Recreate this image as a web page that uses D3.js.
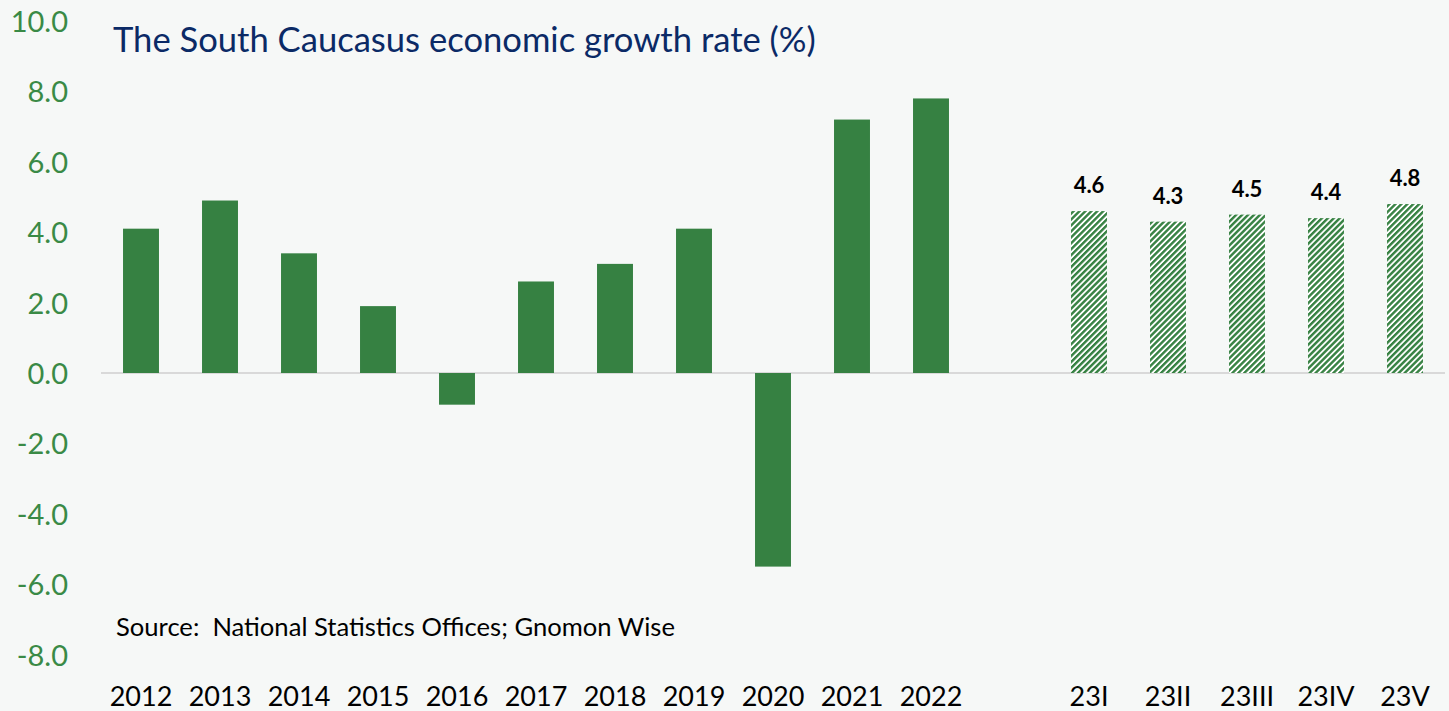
<!DOCTYPE html>
<html>
<head>
<meta charset="utf-8">
<script src="https://cdn.jsdelivr.net/npm/d3@7"></script>
<style>
  body { margin: 0; background: #f6f8f7; }
  svg { display: block; font-family: Lato, "Open Sans", sans-serif; }
</style>
</head>
<body>
<div id="chart"></div>
<script>
// years and their growth rates
const years = ["2012", "2013", "2014", "2015", "2016", "2017", "2018", "2019", "2020", "2021", "2022"];
const yearValues = [4.1, 4.9, 3.4, 1.9, -0.9, 2.6, 3.1, 4.1, -5.5, 7.2, 7.8];

// 2023 estimates (hatched, labelled)
const quarters = ["23I", "23II", "23III", "23IV", "23V"];
const quarterValues = [4.6, 4.3, 4.5, 4.4, 4.8];

const yTicks = [10, 8, 6, 4, 2, 0, -2, -4, -6, -8];

const W = 1449, H = 711;
const green = "#368142";

const svg = d3.select("#chart").append("svg")
    .attr("width", W)
    .attr("height", H);

svg.append("rect").attr("width", W).attr("height", H).attr("fill", "#f6f8f7");

// hatch pattern for the 2023 bars
const pat = svg.append("defs").append("pattern")
    .attr("id", "hatch")
    .attr("patternUnits", "userSpaceOnUse")
    .attr("width", 4.2)
    .attr("height", 10)
    .attr("patternTransform", "rotate(45)");
pat.append("rect").attr("width", 4.2).attr("height", 10).attr("fill", "#ffffff");
pat.append("rect").attr("width", 2.4).attr("height", 10).attr("fill", green);

// one empty slot between the years and the quarters
const slots = years.concat(["gap"], quarters);

const x = d3.scaleBand()
    .domain(slots)
    .range([101.5, 1444.5])
    .paddingInner(0.545)
    .paddingOuter(0.2725);

const y = d3.scaleLinear()
    .domain([-8, 10])
    .range([654.6, 21]);

// zero line
svg.append("line")
    .attr("x1", 101).attr("x2", 1445)
    .attr("y1", y(0)).attr("y2", y(0))
    .attr("stroke", "#d9d9d9")
    .attr("stroke-width", 2);

const yearData = years.map((d, i) => ({ cat: d, v: yearValues[i] }));
const qData = quarters.map((d, i) => ({ cat: d, v: quarterValues[i] }));

svg.selectAll(".bar")
    .data(yearData)
    .enter().append("rect")
    .attr("class", "bar")
    .attr("x", d => x(d.cat))
    .attr("width", x.bandwidth())
    .attr("y", d => y(Math.max(0, d.v)))
    .attr("height", d => Math.abs(y(d.v) - y(0)))
    .attr("fill", green);

svg.selectAll(".qbar")
    .data(qData)
    .enter().append("rect")
    .attr("class", "qbar")
    .attr("x", d => x(d.cat))
    .attr("width", x.bandwidth())
    .attr("y", d => y(d.v))
    .attr("height", d => y(0) - y(d.v))
    .attr("fill", "url(#hatch)");

svg.selectAll(".qlabel")
    .data(qData)
    .enter().append("text")
    .attr("class", "qlabel")
    .attr("x", d => x(d.cat) + x.bandwidth() / 2)
    .attr("y", d => y(d.v) - 18)
    .attr("text-anchor", "middle")
    .attr("font-size", "22px")
    .attr("font-weight", "bold")
    .attr("fill", "#000")
    .text(d => d.v.toFixed(1));

// y axis labels only (plain hyphen for negatives, like the original)
const yAxis = svg.append("g")
    .attr("transform", "translate(68,0)")
    .call(d3.axisLeft(y).tickValues(yTicks).tickSize(0).tickPadding(0)
        .tickFormat(d => d.toFixed(1)));
yAxis.select(".domain").remove();
yAxis.selectAll("text")
    .attr("font-family", "Lato, sans-serif")
    .attr("font-size", "29px")
    .attr("fill", "#3a8a46")
    .attr("dy", "0.36em");

// x axis labels, placed at the bottom
const xAxis = svg.append("g")
    .attr("transform", "translate(0,706)")
    .call(d3.axisBottom(x).tickSize(0).tickPadding(0).tickFormat(d => d === "gap" ? "" : d));
xAxis.select(".domain").remove();
xAxis.selectAll("text")
    .attr("font-family", "Lato, sans-serif")
    .attr("font-size", "27px")
    .attr("fill", "#000")
    .attr("dy", "0");

svg.append("text")
    .attr("x", 113)
    .attr("y", 52)
    .attr("font-size", "34.6px")
    .attr("fill", "#0b2a66")
    .text("The South Caucasus economic growth rate (%)");

svg.append("text")
    .attr("x", 116)
    .attr("y", 636)
    .attr("font-size", "25.6px")
    .attr("fill", "#000")
    .attr("xml:space", "preserve")
    .text("Source:  National Statistics Offices; Gnomon Wise");
</script>
</body>
</html>
